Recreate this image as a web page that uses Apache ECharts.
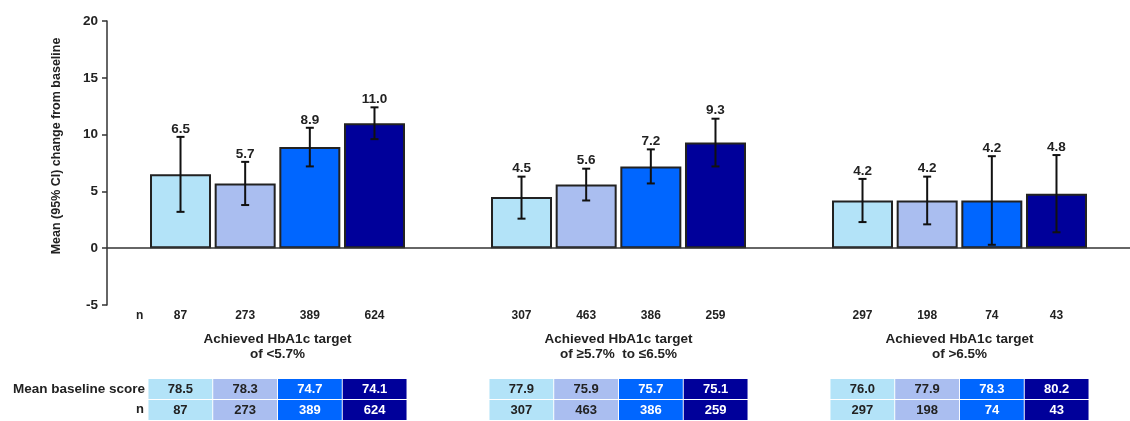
<!DOCTYPE html>
<html>
<head>
<meta charset="utf-8">
<script src="https://cdn.jsdelivr.net/npm/echarts@6/dist/echarts.min.js"></script>
<style>
html,body{margin:0;padding:0;background:#fff;}
#chart{width:1130px;height:421px;}
</style>
</head>
<body>
<div id="chart"></div>
<script>
// 分组
var groups=['Achieved HbA1c target\nof <5.7%','Achieved HbA1c target\nof ≥5.7%  to ≤6.5%','Achieved HbA1c target\nof >6.5%'];
var colors=['#b3e3f8','#aabef0','#0066ff','#00009a'];
// 均值 (每个颜色一组，按分组排列)
var means=[[6.5,4.5,4.2],[5.7,5.6,4.2],[8.9,7.2,4.2],[11.0,9.3,4.8]];
var ciLow=[[3.2,2.6,2.3],[3.8,4.2,2.1],[7.2,5.7,0.3],[9.6,7.2,1.4]];
var ciHigh=[[9.8,6.3,6.1],[7.6,7.0,6.3],[10.6,8.7,8.1],[12.4,11.4,8.2]];
var nums=[[87,307,297],[273,463,198],[389,386,74],[624,259,43]];
var baseline=[['78.5','77.9','76.0'],['78.3','75.9','77.9'],['74.7','75.7','78.3'],['74.1','75.1','80.2']];
var yTicks={min:-5,max:20,interval:5};

var font='Arial, "Liberation Sans", sans-serif';
var myChart=echarts.init(document.getElementById('chart'));

var barW=61, gapPct='6%';
var step=61*1.06;

// 柱
var seriesArr=[];
for(var i=0;i<4;i++){
	var s={
		type:'bar',xAxisIndex:0,yAxisIndex:0,
		data:means[i],barWidth:barW,barGap:gapPct,
		itemStyle:{color:colors[i],borderColor:'#222',borderWidth:2},
		z:2
	};
	if(i==0){
		// 零线
		s.markLine={silent:true,symbol:'none',label:{show:false},
			lineStyle:{color:'#333',width:1.5,type:'solid'},data:[{yAxis:0}]};
	}
	seriesArr.push(s);
}
// 误差线 + 数值 + n
var errData=[];
for(var i=0;i<4;i++){
	for(var g=0;g<3;g++){
		errData.push([g,i,ciLow[i][g],ciHigh[i][g],means[i][g],nums[i][g]]);
	}
}
seriesArr.push({
	type:'custom',xAxisIndex:0,yAxisIndex:0,z:5,
	encode:{x:0,y:[2,3]},
	data:errData,
	renderItem:function(params,api){
		var g=api.value(0),s=api.value(1);
		var top=api.coord([g,api.value(3)]);
		var bot=api.coord([g,api.value(2)]);
		var base=api.coord([g,yTicks.min]);
		var x=top[0]+(s-1.5)*step;
		var ls={stroke:'#111',lineWidth:2};
		return {type:'group',children:[
			{type:'line',shape:{x1:x,y1:top[1],x2:x,y2:bot[1]},style:ls},
			{type:'line',shape:{x1:x-4,y1:top[1],x2:x+4,y2:top[1]},style:ls},
			{type:'line',shape:{x1:x-4,y1:bot[1],x2:x+4,y2:bot[1]},style:ls},
			{type:'text',style:{x:x,y:top[1]-1,text:api.value(4).toFixed(1),align:'center',verticalAlign:'bottom',
				font:'bold 13.5px '+font,fill:'#222'}},
			{type:'text',style:{x:x,y:base[1]+11,text:String(api.value(5)),align:'center',verticalAlign:'middle',
				font:'bold 12px '+font,fill:'#222'}}
		]};
	}
});
// 表格
for(var i=0;i<4;i++){
	(function(i){
		var txt=i>=2?'#fff':'#222';
		seriesArr.push({
			type:'bar',xAxisIndex:1,yAxisIndex:1,stack:'t'+i,
			data:[1,1,1],barWidth:63.8,barGap:'1.5%',
			itemStyle:{color:colors[i]},
			label:{show:true,position:'inside',color:txt,fontFamily:font,fontWeight:'bold',fontSize:13,
				formatter:function(p){return nums[i][p.dataIndex];}}
		});
		seriesArr.push({
			type:'bar',xAxisIndex:1,yAxisIndex:1,stack:'t'+i,
			data:[0.04,0.04,0.04],barWidth:63.8,barGap:'1.5%',
			itemStyle:{color:'#fff'}
		});
		seriesArr.push({
			type:'bar',xAxisIndex:1,yAxisIndex:1,stack:'t'+i,
			data:[1,1,1],barWidth:63.8,barGap:'1.5%',
			itemStyle:{color:colors[i]},
			label:{show:true,position:'inside',color:txt,fontFamily:font,fontWeight:'bold',fontSize:13,
				formatter:function(p){return baseline[i][p.dataIndex];}}
		});
	})(i);
}

var option={
	animation:false,
	backgroundColor:'#fff',
	grid:[
		{left:107,top:21,width:1031,height:284},
		{left:107,top:379,width:1031,height:41}
	],
	xAxis:[
		{type:'category',gridIndex:0,data:groups,position:'bottom',
			axisLine:{show:false,onZero:false},
			axisTick:{show:false},
			axisLabel:{show:true,margin:27,fontFamily:font,fontWeight:'bold',fontSize:13.5,color:'#222',lineHeight:15,interval:0,hideOverlap:false}
		},
		{type:'category',gridIndex:1,data:groups,show:false}
	],
	yAxis:[
		{type:'value',gridIndex:0,min:yTicks.min,max:yTicks.max,interval:yTicks.interval,
			name:'Mean (95% CI) change from baseline',nameLocation:'middle',nameGap:44,
			nameTextStyle:{fontFamily:font,fontWeight:'bold',fontSize:12.5,color:'#222',padding:[0,0,0,34]},
			axisLine:{show:true,lineStyle:{color:'#333',width:1.5}},
			axisTick:{show:true,length:5,lineStyle:{color:'#333',width:1.5}},
			splitLine:{show:false},
			axisLabel:{margin:9,fontFamily:font,fontWeight:'bold',fontSize:13.5,color:'#222'}
		},
		{type:'value',gridIndex:1,min:0,max:2.04,show:false}
	],
	graphic:[
		{type:'text',left:136,top:310,style:{text:'n',font:'bold 12px '+font,fill:'#222'}},
		{type:'text',right:985,top:382,style:{text:'Mean baseline score',font:'bold 13.5px '+font,fill:'#222',align:'right'}},
		{type:'text',left:136,top:403,style:{text:'n',font:'bold 13px '+font,fill:'#222'}}
	],
	series:seriesArr
};
myChart.setOption(option);
</script>
</body>
</html>
